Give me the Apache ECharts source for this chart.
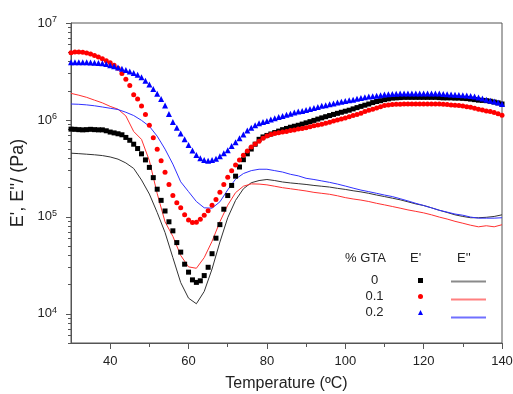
<!DOCTYPE html>
<html>
<head>
<meta charset="utf-8">
<script src="https://cdn.jsdelivr.net/npm/echarts@6/dist/echarts.min.js"></script>
<style>
  html, body { margin: 0; padding: 0; background: #fff; }
  #chart { width: 513px; height: 394px; }
</style>
</head>
<body>
<div id="chart"></div>
<script>
// temperature grids (ºC)
const tempsStorage = [];
for (let t = 30; t <= 140; t++) tempsStorage.push(t);
const tempsLoss = [30,32,34,36,38,40,42,44,46,48,50,52,54,56,58,60,62,64,66,68,70,72,74,76,78,80,82,84,86,88,90,92,94,96,98,100,102,104,106,108,110,112,114,116,118,120,122,124,126,128,130,132,134,136,138,140];

const gtaLevels = ['0', '0.1', '0.2'];

// E' (Pa), one value per degree from 30 to 140
const storage0 = [
  8.04e5,8.0e5,7.94e5,7.9e5,7.94e5,8.0e5,7.94e5,7.9e5,7.9e5,7.73e5,
  7.5e5,7.35e5,7.2e5,7.03e5,6.6e5,6.17e5,5.62e5,5.07e5,4.47e5,3.87e5,
  3.24e5,2.54e5,1.93e5,1.48e5,1.15e5,8.9e4,7.18e4,5.43e4,4.33e4,3.25e4,
  2.69e4,2.24e4,2.11e4,2.19e4,2.48e4,3.02e4,4.17e4,6.03e4,8.32e4,1.2e5,
  1.66e5,2.11e5,2.63e5,3.27e5,3.89e5,4.47e5,5.01e5,5.62e5,6.31e5,6.68e5,
  6.92e5,7.16e5,7.41e5,7.67e5,7.94e5,8.17e5,8.41e5,8.61e5,8.81e5,9.06e5,
  9.33e5,9.6e5,9.89e5,1.02e6,1.05e6,1.08e6,1.11e6,1.14e6,1.17e6,1.2e6,
  1.23e6,1.26e6,1.30e6,1.34e6,1.38e6,1.42e6,1.46e6,1.51e6,1.55e6,1.58e6,
  1.62e6,1.65e6,1.68e6,1.69e6,1.70e6,1.71e6,1.71e6,1.71e6,1.71e6,1.71e6,
  1.71e6,1.71e6,1.71e6,1.71e6,1.70e6,1.69e6,1.69e6,1.69e6,1.68e6,1.68e6,
  1.67e6,1.66e6,1.64e6,1.62e6,1.60e6,1.59e6,1.58e6,1.56e6,1.53e6,1.50e6,
  1.46e6
];
const storage01 = [
  4.94e6,5.01e6,5.01e6,4.99e6,4.9e6,4.79e6,4.62e6,4.47e6,4.27e6,4.07e6,
  3.89e6,3.67e6,3.41e6,3.02e6,2.63e6,2.26e6,1.82e6,1.64e6,1.39e6,1.14e6,
  8.83e5,6.56e5,4.98e5,3.8e5,2.88e5,2.16e5,1.66e5,1.40e5,1.24e5,1.05e5,
  9.31e4,8.77e4,8.81e4,9.44e4,1.04e5,1.16e5,1.32e5,1.51e5,1.80e5,2.16e5,
  2.57e5,2.99e5,3.43e5,3.87e5,4.32e5,4.79e5,5.25e5,5.65e5,6.03e5,6.46e5,
  6.84e5,7.08e5,7.24e5,7.38e5,7.5e5,7.62e5,7.76e5,7.89e5,8.04e5,8.17e5,
  8.32e5,8.51e5,8.71e5,8.85e5,9.02e5,9.23e5,9.44e5,9.73e5,1.0e6,1.02e6,
  1.05e6,1.08e6,1.11e6,1.14e6,1.17e6,1.22e6,1.26e6,1.29e6,1.33e6,1.37e6,
  1.41e6,1.43e6,1.44e6,1.45e6,1.45e6,1.46e6,1.46e6,1.46e6,1.46e6,1.46e6,
  1.46e6,1.46e6,1.46e6,1.46e6,1.46e6,1.45e6,1.44e6,1.43e6,1.42e6,1.41e6,
  1.39e6,1.37e6,1.35e6,1.32e6,1.29e6,1.27e6,1.24e6,1.22e6,1.19e6,1.16e6,
  1.12e6
];
const storage02 = [
  3.94e6,3.94e6,3.94e6,3.94e6,3.94e6,3.92e6,3.89e6,3.87e6,3.85e6,3.78e6,
  3.67e6,3.57e6,3.47e6,3.37e6,3.27e6,3.16e6,3.05e6,2.92e6,2.75e6,2.54e6,
  2.32e6,2.09e6,1.86e6,1.64e6,1.41e6,1.15e6,9.55e5,8.32e5,7.24e5,6.31e5,
  5.5e5,4.84e5,4.36e5,4.03e5,3.85e5,3.8e5,3.85e5,3.98e5,4.22e5,4.52e5,
  4.88e5,5.37e5,5.89e5,6.46e5,7.08e5,7.76e5,8.32e5,8.81e5,9.23e5,9.51e5,
  9.77e5,1.01e6,1.04e6,1.07e6,1.10e6,1.13e6,1.16e6,1.19e6,1.22e6,1.24e6,
  1.27e6,1.30e6,1.33e6,1.36e6,1.40e6,1.42e6,1.45e6,1.48e6,1.51e6,1.54e6,
  1.57e6,1.60e6,1.62e6,1.65e6,1.68e6,1.71e6,1.74e6,1.76e6,1.78e6,1.80e6,
  1.83e6,1.84e6,1.85e6,1.86e6,1.87e6,1.87e6,1.87e6,1.87e6,1.87e6,1.87e6,
  1.87e6,1.87e6,1.87e6,1.87e6,1.87e6,1.85e6,1.84e6,1.83e6,1.82e6,1.81e6,
  1.80e6,1.79e6,1.77e6,1.74e6,1.70e6,1.66e6,1.62e6,1.58e6,1.55e6,1.51e6,
  1.46e6
];

// E'' (Pa), every 2 degrees from 30 to 140
const loss0 = [
  4.54e5,4.49e5,4.43e5,4.37e5,4.29e5,4.15e5,3.94e5,3.6e5,3.16e5,2.4e5,
  1.72e5,1.11e5,6.9e4,3.8e4,2.1e4,1.45e4,1.27e4,1.7e4,2.9e4,5.5e4,
  9.8e4,1.48e5,1.95e5,2.25e5,2.37e5,2.43e5,2.37e5,2.29e5,2.24e5,2.2e5,
  2.16e5,2.11e5,2.07e5,2.03e5,1.97e5,1.92e5,1.86e5,1.81e5,1.75e5,1.68e5,
  1.62e5,1.56e5,1.5e5,1.43e5,1.36e5,1.31e5,1.24e5,1.17e5,1.11e5,1.05e5,
  1.01e5,9.8e4,9.8e4,9.9e4,1.01e5,1.05e5
];
const loss01 = [
  1.88e6,1.8e6,1.71e6,1.6e6,1.5e6,1.38e6,1.29e6,1.1e6,7.6e5,6.3e5,
  3.8e5,1.74e5,8.9e4,6.3e4,4.0e4,3.05e4,2.95e4,3.8e4,5.6e4,8.9e4,
  1.32e5,1.78e5,2.07e5,2.19e5,2.18e5,2.14e5,2.07e5,2.0e5,1.95e5,1.9e5,
  1.85e5,1.79e5,1.75e5,1.71e5,1.65e5,1.58e5,1.53e5,1.49e5,1.44e5,1.38e5,
  1.33e5,1.28e5,1.23e5,1.18e5,1.14e5,1.1e5,1.05e5,9.95e4,9.5e4,9.0e4,
  8.6e4,8.2e4,7.9e4,8.1e4,7.9e4,8.3e4
];
const loss02 = [
  1.46e6,1.45e6,1.43e6,1.4e6,1.36e6,1.32e6,1.28e6,1.2e6,1.11e6,9.9e5,
  8.6e5,6.8e5,5.0e5,3.5e5,2.3e5,1.82e5,1.44e5,1.24e5,1.23e5,1.43e5,
  1.9e5,2.45e5,2.8e5,3.0e5,3.1e5,3.1e5,3.0e5,2.9e5,2.75e5,2.65e5,
  2.5e5,2.43e5,2.35e5,2.27e5,2.18e5,2.08e5,1.98e5,1.89e5,1.82e5,1.75e5,
  1.68e5,1.62e5,1.54e5,1.46e5,1.38e5,1.31e5,1.24e5,1.17e5,1.12e5,1.07e5,
  1.04e5,9.95e4,9.7e4,9.7e4,9.7e4,9.8e4
];

const xLabelTicks = [40, 60, 80, 100, 120, 140];
const xMinorTicks = [50, 70, 90, 110, 130];
const yDecades = [4, 5, 6, 7];

const yMin = Math.log10(5000);
const yMax = 7;

// log10 positions of the 2..9 minor ticks inside the range
const yMinor = [];
for (let n = 3; n <= 6; n++) {
  for (let k = 2; k <= 9; k++) {
    const v = Math.log10(k * Math.pow(10, n));
    if (v >= yMin && v <= yMax) yMinor.push(v);
  }
}

const toPairs = (temps, vals) => temps.map((t, i) => [t, Math.log10(vals[i])]);

const axisColor = '#555';
const textColor = '#222';
const font = 'Liberation Sans, Arial, sans-serif';

const chart = echarts.init(document.getElementById('chart'), null, { renderer: 'canvas' });

const lossColors = ['#333333', '#ff3030', '#3030ff'];
const lossLegendColors = ['#8a8a8a', '#ff8080', '#7070ff'];
const storageColors = ['#000000', '#ff0000', '#0000ff'];
const storageSymbols = ['rect', 'circle', 'triangle'];
const storageSizes = [5, 5, 6];
const storageData = [storage0, storage01, storage02];
const lossData = [loss0, loss01, loss02];

const series = [];
gtaLevels.forEach((lvl, i) => {
  series.push({
    name: lvl + " E''",
    type: 'line',
    data: toPairs(tempsLoss, lossData[i]),
    showSymbol: false,
    symbol: 'none',
    lineStyle: { width: 1, color: lossColors[i] },
    itemStyle: { color: lossColors[i] },
    z: 2,
    silent: true
  });
});
gtaLevels.forEach((lvl, i) => {
  series.push({
    name: lvl,
    type: 'scatter',
    data: toPairs(tempsStorage, storageData[i]),
    symbol: storageSymbols[i],
    symbolSize: storageSizes[i],
    itemStyle: { color: storageColors[i], opacity: 1 },
    z: 3,
    silent: true
  });
});

chart.setOption({
  animation: false,
  backgroundColor: '#fff',
  textStyle: { fontFamily: font },
  grid: {
    left: 71, right: 11, top: 23, bottom: 51,
    show: true, borderColor: axisColor, borderWidth: 1,
    outerBoundsMode: 'none'
  },
  xAxis: [
    {
      type: 'value', min: 30, max: 140,
      name: 'Temperature (ºC)', nameLocation: 'middle', nameGap: 33,
      nameTextStyle: { fontSize: 16, color: textColor, fontFamily: font },
      axisLine: { show: true, lineStyle: { color: axisColor } },
      axisTick: { show: true, length: 6, customValues: xLabelTicks, lineStyle: { color: axisColor } },
      axisLabel: { customValues: xLabelTicks, fontSize: 13, color: textColor, margin: 12, fontFamily: font },
      splitLine: { show: false }
    },
    {
      type: 'value', min: 30, max: 140, position: 'bottom',
      axisLine: { show: false },
      axisTick: { show: true, length: 4, customValues: xMinorTicks, lineStyle: { color: axisColor } },
      axisLabel: { show: false },
      splitLine: { show: false }
    }
  ],
  yAxis: [
    {
      type: 'value', min: yMin, max: yMax,
      name: "E', E''/ (Pa)", nameLocation: 'middle', nameGap: 37,
      nameTextStyle: { fontSize: 18, color: textColor, fontFamily: font },
      axisLine: { show: true, lineStyle: { color: axisColor } },
      axisTick: { show: true, length: 5, customValues: yDecades, lineStyle: { color: axisColor } },
      axisLabel: {
        customValues: yDecades, margin: 14, color: textColor,
        formatter: v => '{b|10}{s|' + Math.round(v) + '}',
        rich: {
          b: { fontSize: 13, lineHeight: 16, color: textColor, fontFamily: font },
          s: { fontSize: 9, lineHeight: 9, verticalAlign: 'top', color: textColor, fontFamily: font }
        }
      },
      splitLine: { show: false }
    },
    {
      type: 'value', min: yMin, max: yMax, position: 'left',
      axisLine: { show: false },
      axisTick: { show: true, length: 3, customValues: yMinor, lineStyle: { color: axisColor } },
      axisLabel: { show: false },
      splitLine: { show: false }
    }
  ],
  legend: [
    {
      data: gtaLevels,
      orient: 'vertical', align: 'right',
      left: 331, top: 269,
      itemWidth: 5, itemHeight: 5, itemGap: 3,
      formatter: name => '{c|' + name + '}',
      textStyle: {
        color: textColor, fontSize: 13, fontFamily: font,
        rich: { c: { width: 77, align: 'center', fontSize: 13, lineHeight: 15, color: textColor, fontFamily: font } }
      },
      selectedMode: false
    },
    {
      data: gtaLevels.map((l, i) => ({
        name: l + " E''",
        icon: 'rect',
        itemStyle: { color: lossLegendColors[i], borderWidth: 0 }
      })),
      orient: 'vertical', align: 'left',
      left: 446, top: 269,
      itemWidth: 35, itemHeight: 2, itemGap: 3,
      formatter: () => ' ',
      textStyle: { fontSize: 13, lineHeight: 15, fontFamily: font },
      selectedMode: false
    }
  ],
  graphic: [
    { type: 'text', left: 345, top: 252, style: { text: '% GTA', font: '13px ' + font, fill: textColor } },
    { type: 'text', left: 410, top: 252, style: { text: "E'", font: '13px ' + font, fill: textColor } },
    { type: 'text', left: 457, top: 252, style: { text: "E''", font: '13px ' + font, fill: textColor } }
  ],
  series: series
});
</script>
</body>
</html>
